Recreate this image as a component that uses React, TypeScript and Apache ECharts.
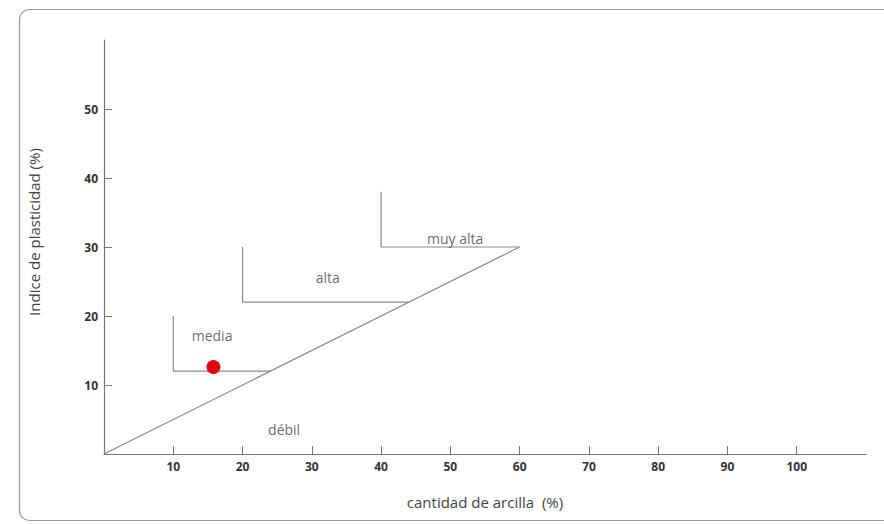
import React, { useEffect, useRef } from "react";
import * as echarts from "echarts";

const xTicks = [10, 20, 30, 40, 50, 60, 70, 80, 90, 100];
const yTicks = [10, 20, 30, 40, 50];
const diagonal = [[0, 0], [60, 30]];
const mediaLine = [[10, 20], [10, 12], [24, 12]];
const altaLine = [[20, 30], [20, 22], [44, 22]];
const muyAltaLine = [[40, 38], [40, 30], [60, 30]];
const zoneNames = ["media", "alta", "muy alta", "débil"];
const zoneX = [15.6, 32.3, 50.7, 26];
const zoneY = [17.2, 25.6, 31.3, 3.5];
const sample = [[15.8, 12.6]];

export default function App() {
  const ref = useRef<HTMLDivElement>(null);
  useEffect(() => {
    const chart = echarts.init(ref.current!, null, { renderer: "svg" });
    const lineStyle = { color: "#8a8a8a", width: 1.2 };
    const mkLine = (d: number[][]) => ({
      type: "line",
      data: d,
      symbol: "none",
      lineStyle,
      silent: true,
      z: 2,
    });
    chart.setOption({
      animation: false,
      backgroundColor: "#ffffff",
      textStyle: { fontFamily: "Open Sans" },
      graphic: [
        {
          type: "rect",
          shape: { x: 19.5, y: 9.5, width: 900, height: 511, r: 10 },
          style: { fill: "none", stroke: "#9a9a9a", lineWidth: 1.2 },
          z: -1,
        },
      ],
      grid: { left: 104, top: 40, right: 18, bottom: 70 },
      xAxis: {
        type: "value",
        min: 0,
        max: 110,
        interval: 10,
        name: "cantidad de arcilla  (%)",
        nameLocation: "middle",
        nameGap: 40,
        nameTextStyle: { color: "#444", fontSize: 15, fontFamily: "Open Sans" },
        splitLine: { show: false },
        axisLine: { lineStyle: { color: "#777", width: 1.2 } },
        axisTick: {
          inside: true,
          length: 8,
          customValues: xTicks,
          lineStyle: { color: "#777" },
        },
        axisLabel: {
          customValues: xTicks,
          color: "#333",
          fontWeight: "bold",
          fontSize: 12,
          margin: 6,
          fontFamily: "Open Sans",
        },
      },
      yAxis: {
        type: "value",
        min: 0,
        max: 60,
        interval: 10,
        name: "Indice de plasticidad (%)",
        nameLocation: "middle",
        nameGap: 63,
        nameTextStyle: { color: "#444", fontSize: 15, fontFamily: "Open Sans", padding: [0, 0, 0, 30] },
        splitLine: { show: false },
        axisLine: { show: true, lineStyle: { color: "#777", width: 1.2 } },
        axisTick: {
          show: true,
          inside: true,
          length: 8,
          customValues: yTicks,
          lineStyle: { color: "#777" },
        },
        axisLabel: {
          customValues: yTicks,
          color: "#333",
          fontWeight: "bold",
          fontSize: 12,
          margin: 6,
          fontFamily: "Open Sans",
        },
      },
      series: [
        mkLine(diagonal),
        mkLine(mediaLine),
        mkLine(altaLine),
        mkLine(muyAltaLine),
        {
          type: "scatter",
          symbolSize: 0,
          silent: true,
          data: zoneNames.map((n, i) => ({ name: n, value: [zoneX[i], zoneY[i]] })),
          label: {
            show: true,
            position: [0, 0],
            align: "center",
            verticalAlign: "middle",
            formatter: "{b}",
            color: "#444",
            fontSize: 14,
            fontFamily: "Open Sans",
            textBorderWidth: 0,
          },
          z: 3,
        },
        {
          type: "scatter",
          symbol: "circle",
          symbolSize: 14,
          data: sample,
          itemStyle: { color: "#e3000f", opacity: 1 },
          z: 4,
        },
      ],
    });
    return () => chart.dispose();
  }, []);
  return (
    <div
      ref={ref}
      style={{ position: "absolute", left: 0, top: 0, width: 884, height: 524 }}
    />
  );
}
